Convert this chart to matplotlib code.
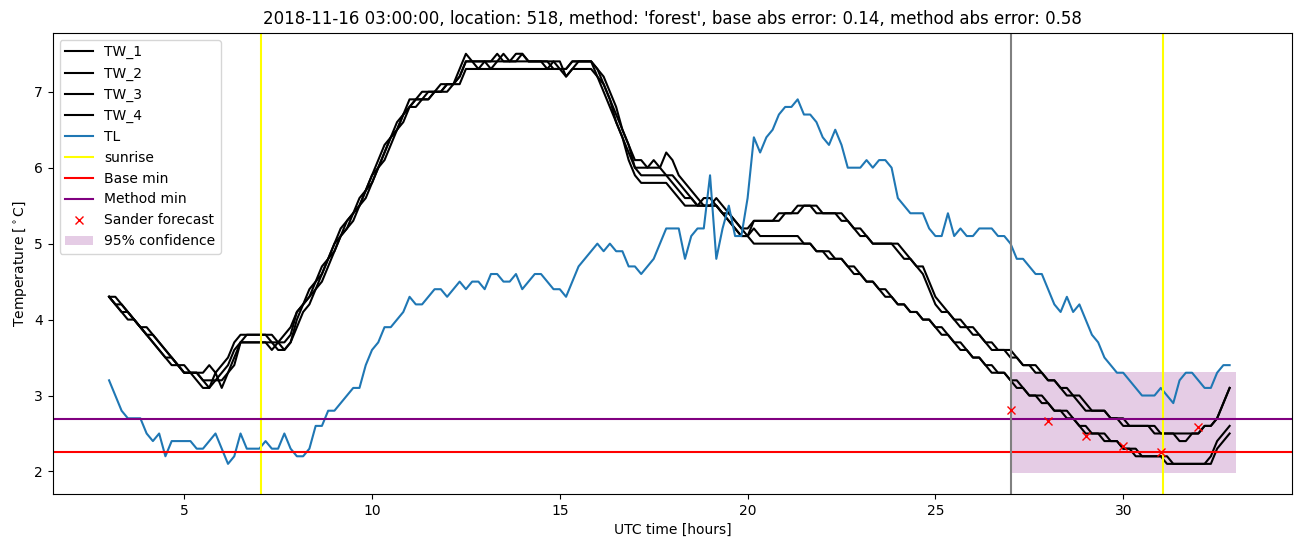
import numpy as np
import matplotlib
matplotlib.use("Agg")
import matplotlib.pyplot as plt

# ---- data (10-minute samples, 03:00 -> 32:50 UTC hours) ----
# one row per hour, six values per row
tw_1 = [
    4.3, 4.2, 4.1, 4.0, 4.0, 3.9,
    3.8, 3.7, 3.6, 3.5, 3.4, 3.4,
    3.3, 3.3, 3.3, 3.2, 3.2, 3.2,
    3.3, 3.4, 3.6, 3.7, 3.8, 3.8,
    3.8, 3.8, 3.8, 3.7, 3.7, 3.8,
    4.1, 4.2, 4.3, 4.5, 4.7, 4.8,
    5.0, 5.2, 5.3, 5.4, 5.6, 5.7,
    5.9, 6.1, 6.3, 6.4, 6.6, 6.7,
    6.9, 6.9, 6.9, 7.0, 7.0, 7.1,
    7.1, 7.1, 7.2, 7.4, 7.4, 7.4,
    7.4, 7.4, 7.5, 7.4, 7.4, 7.5,
    7.5, 7.4, 7.4, 7.4, 7.4, 7.4,
    7.3, 7.3, 7.4, 7.4, 7.4, 7.4,
    7.3, 7.2, 7.0, 6.8, 6.5, 6.3,
    6.1, 6.1, 6.0, 6.0, 6.0, 6.2,
    6.1, 5.9, 5.8, 5.7, 5.6, 5.5,
    5.5, 5.6, 5.5, 5.4, 5.3, 5.2,
    5.2, 5.3, 5.3, 5.3, 5.3, 5.4,
    5.4, 5.4, 5.5, 5.5, 5.5, 5.4,
    5.4, 5.4, 5.4, 5.3, 5.3, 5.2,
    5.1, 5.1, 5.0, 5.0, 5.0, 5.0,
    4.9, 4.8, 4.8, 4.7, 4.6, 4.4,
    4.2, 4.1, 4.1, 4.0, 3.9, 3.9,
    3.8, 3.8, 3.7, 3.6, 3.6, 3.6,
    3.5, 3.5, 3.4, 3.4, 3.3, 3.3,
    3.2, 3.2, 3.1, 3.0, 3.0, 2.9,
    2.8, 2.8, 2.8, 2.8, 2.7, 2.7,
    2.6, 2.6, 2.6, 2.6, 2.6, 2.5,
    2.5, 2.5, 2.5, 2.4, 2.4, 2.5,
    2.5, 2.6, 2.6, 2.7, 2.9, 3.1,
]
tw_2 = [
    4.3, 4.3, 4.2, 4.1, 4.0, 3.9,
    3.9, 3.8, 3.7, 3.6, 3.5, 3.4,
    3.4, 3.3, 3.3, 3.3, 3.4, 3.3,
    3.4, 3.5, 3.7, 3.8, 3.8, 3.8,
    3.8, 3.8, 3.7, 3.7, 3.8, 3.9,
    4.1, 4.2, 4.4, 4.5, 4.6, 4.8,
    4.9, 5.1, 5.3, 5.4, 5.5, 5.7,
    5.9, 6.0, 6.2, 6.4, 6.5, 6.7,
    6.8, 6.9, 7.0, 7.0, 7.0, 7.0,
    7.1, 7.1, 7.3, 7.5, 7.4, 7.4,
    7.4, 7.3, 7.4, 7.4, 7.4, 7.4,
    7.5, 7.4, 7.4, 7.4, 7.4, 7.3,
    7.3, 7.3, 7.4, 7.4, 7.4, 7.4,
    7.3, 7.1, 6.9, 6.7, 6.5, 6.3,
    6.0, 6.0, 6.0, 6.1, 6.0, 5.9,
    5.9, 5.8, 5.7, 5.6, 5.5, 5.6,
    5.6, 5.5, 5.4, 5.4, 5.3, 5.2,
    5.1, 5.3, 5.3, 5.3, 5.3, 5.3,
    5.4, 5.4, 5.4, 5.5, 5.5, 5.5,
    5.4, 5.4, 5.4, 5.4, 5.3, 5.2,
    5.2, 5.1, 5.0, 5.0, 5.0, 5.0,
    5.0, 4.9, 4.8, 4.7, 4.7, 4.5,
    4.3, 4.2, 4.1, 4.0, 4.0, 3.9,
    3.9, 3.8, 3.7, 3.7, 3.6, 3.6,
    3.6, 3.5, 3.4, 3.4, 3.4, 3.3,
    3.2, 3.2, 3.1, 3.1, 3.0, 3.0,
    2.9, 2.8, 2.8, 2.8, 2.7, 2.7,
    2.7, 2.6, 2.6, 2.6, 2.6, 2.6,
    2.5, 2.5, 2.5, 2.5, 2.5, 2.5,
    2.5, 2.6, 2.6, 2.7, 2.9, 3.1,
]
tw_3 = [
    4.3, 4.2, 4.1, 4.1, 4.0, 3.9,
    3.8, 3.7, 3.6, 3.5, 3.5, 3.4,
    3.3, 3.3, 3.2, 3.1, 3.1, 3.2,
    3.2, 3.3, 3.5, 3.7, 3.7, 3.7,
    3.7, 3.7, 3.6, 3.7, 3.6, 3.7,
    4.0, 4.2, 4.3, 4.4, 4.6, 4.8,
    5.0, 5.1, 5.2, 5.4, 5.5, 5.7,
    5.8, 6.0, 6.2, 6.4, 6.5, 6.7,
    6.8, 6.9, 6.9, 6.9, 7.0, 7.0,
    7.0, 7.1, 7.1, 7.3, 7.3, 7.3,
    7.3, 7.3, 7.3, 7.3, 7.3, 7.3,
    7.3, 7.3, 7.3, 7.3, 7.3, 7.3,
    7.3, 7.2, 7.3, 7.3, 7.3, 7.3,
    7.2, 7.1, 6.9, 6.6, 6.4, 6.2,
    6.0, 5.9, 5.9, 5.9, 5.9, 5.9,
    5.8, 5.7, 5.6, 5.6, 5.5, 5.5,
    5.5, 5.5, 5.4, 5.3, 5.2, 5.1,
    5.1, 5.2, 5.1, 5.1, 5.1, 5.1,
    5.1, 5.1, 5.1, 5.0, 5.0, 4.9,
    4.9, 4.8, 4.8, 4.8, 4.7, 4.6,
    4.6, 4.5, 4.5, 4.4, 4.3, 4.3,
    4.2, 4.2, 4.1, 4.1, 4.0, 4.0,
    3.9, 3.9, 3.8, 3.7, 3.6, 3.6,
    3.5, 3.5, 3.4, 3.3, 3.3, 3.3,
    3.2, 3.1, 3.1, 3.0, 3.0, 2.9,
    2.9, 2.8, 2.8, 2.7, 2.7, 2.6,
    2.5, 2.5, 2.5, 2.4, 2.4, 2.4,
    2.3, 2.3, 2.2, 2.2, 2.2, 2.2,
    2.2, 2.1, 2.1, 2.1, 2.1, 2.1,
    2.1, 2.1, 2.2, 2.4, 2.5, 2.6,
]
tw_4 = [
    4.3, 4.2, 4.2, 4.1, 4.0, 3.9,
    3.8, 3.8, 3.7, 3.6, 3.5, 3.4,
    3.3, 3.3, 3.3, 3.2, 3.1, 3.3,
    3.1, 3.3, 3.4, 3.7, 3.7, 3.7,
    3.7, 3.7, 3.7, 3.6, 3.6, 3.7,
    3.9, 4.1, 4.2, 4.4, 4.5, 4.7,
    4.9, 5.1, 5.2, 5.3, 5.5, 5.6,
    5.8, 6.0, 6.1, 6.3, 6.5, 6.6,
    6.8, 6.8, 6.9, 6.9, 7.0, 7.0,
    7.1, 7.1, 7.2, 7.4, 7.4, 7.3,
    7.4, 7.4, 7.4, 7.5, 7.4, 7.4,
    7.4, 7.4, 7.4, 7.4, 7.3, 7.4,
    7.4, 7.2, 7.3, 7.4, 7.4, 7.4,
    7.2, 7.0, 6.8, 6.6, 6.4, 6.1,
    5.9, 5.8, 5.8, 5.8, 5.8, 5.8,
    5.7, 5.6, 5.5, 5.5, 5.5, 5.5,
    5.5, 5.5, 5.4, 5.3, 5.2, 5.1,
    5.1, 5.0, 5.0, 5.0, 5.0, 5.0,
    5.0, 5.0, 5.0, 5.0, 5.0, 4.9,
    4.9, 4.9, 4.8, 4.8, 4.7, 4.7,
    4.6, 4.5, 4.5, 4.4, 4.4, 4.3,
    4.2, 4.2, 4.1, 4.1, 4.0, 4.0,
    3.9, 3.8, 3.8, 3.7, 3.7, 3.6,
    3.5, 3.5, 3.4, 3.4, 3.3, 3.3,
    3.2, 3.2, 3.1, 3.0, 3.0, 3.0,
    2.9, 2.8, 2.8, 2.8, 2.7, 2.6,
    2.6, 2.5, 2.5, 2.5, 2.4, 2.4,
    2.3, 2.3, 2.3, 2.2, 2.2, 2.2,
    2.2, 2.2, 2.1, 2.1, 2.1, 2.1,
    2.1, 2.1, 2.1, 2.3, 2.4, 2.5,
]
tl = [
    3.2, 3.0, 2.8, 2.7, 2.7, 2.7,
    2.5, 2.4, 2.5, 2.2, 2.4, 2.4,
    2.4, 2.4, 2.3, 2.3, 2.4, 2.5,
    2.3, 2.1, 2.2, 2.5, 2.3, 2.3,
    2.3, 2.4, 2.3, 2.3, 2.5, 2.3,
    2.2, 2.2, 2.3, 2.6, 2.6, 2.8,
    2.8, 2.9, 3.0, 3.1, 3.1, 3.4,
    3.6, 3.7, 3.9, 3.9, 4.0, 4.1,
    4.3, 4.2, 4.2, 4.3, 4.4, 4.4,
    4.3, 4.4, 4.5, 4.4, 4.5, 4.5,
    4.4, 4.6, 4.6, 4.5, 4.5, 4.6,
    4.4, 4.5, 4.6, 4.6, 4.5, 4.4,
    4.4, 4.3, 4.5, 4.7, 4.8, 4.9,
    5.0, 4.9, 5.0, 4.9, 4.9, 4.7,
    4.7, 4.6, 4.7, 4.8, 5.0, 5.2,
    5.2, 5.2, 4.8, 5.1, 5.2, 5.2,
    5.9, 4.8, 5.2, 5.5, 5.1, 5.1,
    5.6, 6.4, 6.2, 6.4, 6.5, 6.7,
    6.8, 6.8, 6.9, 6.7, 6.7, 6.6,
    6.4, 6.3, 6.5, 6.3, 6.0, 6.0,
    6.0, 6.1, 6.0, 6.1, 6.1, 6.0,
    5.6, 5.5, 5.4, 5.4, 5.4, 5.2,
    5.1, 5.1, 5.4, 5.1, 5.2, 5.1,
    5.1, 5.2, 5.2, 5.2, 5.1, 5.1,
    5.0, 4.8, 4.8, 4.7, 4.6, 4.6,
    4.4, 4.2, 4.1, 4.3, 4.1, 4.2,
    4.0, 3.8, 3.7, 3.5, 3.4, 3.3,
    3.3, 3.2, 3.1, 3.0, 3.0, 3.0,
    3.1, 3.0, 2.9, 3.2, 3.3, 3.3,
    3.2, 3.1, 3.1, 3.3, 3.4, 3.4,
]

sunrise_hours = [7.05, 31.05]
forecast_start = 27.0
forecast_hours = [27, 28, 29, 30, 31, 32]
sander_forecast = [2.81, 2.66, 2.47, 2.34, 2.25, 2.59]
conf_hours = [27, 33]
conf_low = 1.98
conf_high = 3.31
base_min = 2.25
method_min = 2.69

title = "2018-11-16 03:00:00, location: 518, method: 'forest', base abs error: 0.14, method abs error: 0.58"

hours = 3 + np.arange(len(tl)) / 6.0

fig, ax = plt.subplots(figsize=(13.02, 5.47), dpi=100)
fig.subplots_adjust(left=0.0405, right=0.9925, top=0.940, bottom=0.097)

for name, vals in [("TW_1", tw_1), ("TW_2", tw_2), ("TW_3", tw_3), ("TW_4", tw_4)]:
    ax.plot(hours, vals, color="black", label=name)
ax.plot(hours, tl, color="tab:blue", label="TL")

for k, h in enumerate(sunrise_hours):
    ax.axvline(h, color="yellow", label="sunrise" if k == 0 else None)
ax.axhline(base_min, color="red", label="Base min")
ax.axhline(method_min, color="purple", label="Method min")
ax.axvline(forecast_start, color="grey")
ax.plot(forecast_hours, sander_forecast, "rx", label="Sander forecast")
ax.fill_between(conf_hours, conf_low, conf_high, color="purple", alpha=0.2,
                linewidth=0, label="95% confidence")

ax.set_title(title)
ax.set_xlabel("UTC time [hours]")
ax.set_ylabel(r"Temperature [$^\circ$C]")
ax.legend(loc="upper left")

fig.savefig("out.png")
